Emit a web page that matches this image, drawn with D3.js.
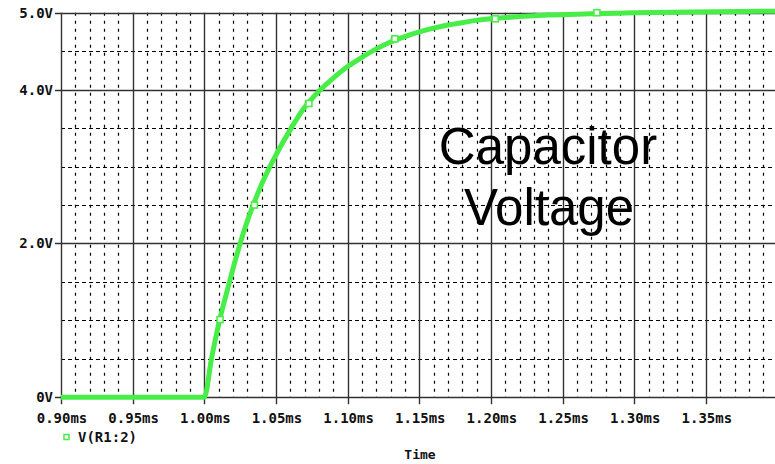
<!DOCTYPE html>
<html><head><meta charset="utf-8">
<script src="https://cdn.jsdelivr.net/npm/d3@7"></script>
<style>html,body{margin:0;padding:0;background:#fff;overflow:hidden}</style>
</head><body><svg id="c" width="775" height="464"></svg>
<script>
// Data
const timeMs = [0.90,1.00,1.005,1.010,1.015,1.020,1.025,1.030,1.035,1.040,1.045,1.050,1.060,1.070,1.080,1.090,1.100,1.110,1.120,1.130,1.140,1.150,1.160,1.170,1.180,1.190,1.200,1.220,1.240,1.260,1.280,1.300,1.340,1.400];
const voltage = [0,0,0.50,0.95,1.32,1.67,2.00,2.29,2.54,2.77,2.97,3.15,3.48,3.77,3.98,4.15,4.30,4.42,4.53,4.62,4.69,4.75,4.80,4.84,4.87,4.90,4.92,4.95,4.97,4.98,4.99,5.0,5.01,5.02];
const markerTime = [1.011,1.035,1.073,1.133,1.203,1.274];
const markerVolt = [1.01,2.50,3.82,4.66,4.92,5.00];
const xTicks = [0.90,0.95,1.00,1.05,1.10,1.15,1.20,1.25,1.30,1.35];
const xTickLabels = ["0.90ms","0.95ms","1.00ms","1.05ms","1.10ms","1.15ms","1.20ms","1.25ms","1.30ms","1.35ms"];
const yTicks = [0,2,4,5];
const yTickLabels = ["0V","2.0V","4.0V","5.0V"];
const xMinor = d3.range(0,51).map(i=>0.90+i*0.01).filter(v=>Math.abs((v-0.90)/0.05 - Math.round((v-0.90)/0.05))>1e-6);
const yMinor = [0.5,1.0,1.5,2.5,3.0,3.5,4.5];
const seriesName = "V(R1:2)";

const svg = d3.select("#c");
const x = d3.scaleLinear().domain([0.90,1.40]).range([61,61+10*71.65]);
const y = d3.scaleLinear().domain([0,5]).range([397.3,12.7]);
const font = "'DejaVu Sans Mono', monospace";
const green = "#47ee47";

// minor grid
svg.append("g").selectAll("line").data(xMinor).join("line")
  .attr("x1",d=>Math.round(x(d))+0.5).attr("x2",d=>Math.round(x(d))+0.5)
  .attr("y1",y(5)).attr("y2",y(0))
  .attr("stroke","#000").attr("stroke-width",1.2).attr("stroke-dasharray","3,5");
svg.append("g").selectAll("line").data(yMinor).join("line")
  .attr("x1",x(0.90)).attr("x2",775)
  .attr("y1",d=>Math.round(y(d))+0.5).attr("y2",d=>Math.round(y(d))+0.5)
  .attr("stroke","#000").attr("stroke-width",1.2).attr("stroke-dasharray","4,3");
// major grid
svg.append("g").selectAll("line").data(xTicks).join("line")
  .attr("x1",d=>Math.round(x(d))+0.5).attr("x2",d=>Math.round(x(d))+0.5)
  .attr("y1",y(5)).attr("y2",y(0)+7)
  .attr("stroke","#333").attr("stroke-width",1.4);
svg.append("g").selectAll("line").data(yTicks).join("line")
  .attr("x1",x(0.90)-6).attr("x2",775)
  .attr("y1",d=>Math.round(y(d))+0.5).attr("y2",d=>Math.round(y(d))+0.5)
  .attr("stroke","#333").attr("stroke-width",1.4);

// axis labels
svg.append("g").selectAll("text").data(yTicks).join("text")
  .attr("x",53).attr("y",(d)=>y(d)+5)
  .attr("text-anchor","end").attr("font-family",font).attr("font-weight","bold")
  .attr("font-size",14).attr("fill","#111").text((d,i)=>yTickLabels[i]);
svg.append("g").selectAll("text").data(xTicks).join("text")
  .attr("x",d=>x(d)+1).attr("y",423)
  .attr("text-anchor","middle").attr("font-family",font).attr("font-weight","bold")
  .attr("font-size",14).attr("fill","#111").text((d,i)=>xTickLabels[i]);

// series line
const pts = timeMs.map((t,i)=>[t,voltage[i]]);
svg.append("path").datum(pts)
  .attr("d",d3.line().x(d=>x(d[0])).y(d=>y(d[1])).curve(d3.curveMonotoneX))
  .attr("fill","none").attr("stroke",green).attr("stroke-width",5).attr("stroke-linejoin","round");
svg.append("g").selectAll("rect").data(markerTime).join("rect")
  .attr("x",d=>x(d)-3).attr("y",(d,i)=>y(markerVolt[i])-3)
  .attr("width",6).attr("height",6).attr("fill","#fff").attr("stroke",green).attr("stroke-width",1.6);

// legend
svg.append("rect").attr("x",64).attr("y",434.5).attr("width",5).attr("height",5)
  .attr("fill","#fff").attr("stroke",green).attr("stroke-width",1.5);
svg.append("text").attr("x",78).attr("y",441.5).attr("font-family",font).attr("font-weight","bold")
  .attr("font-size",14).attr("fill","#111").text(seriesName);
svg.append("text").attr("x",420).attr("y",459).attr("text-anchor","middle").attr("font-family",font)
  .attr("font-weight","bold").attr("font-size",13).attr("fill","#111").text("Time");

// annotation
const ann = svg.append("text").attr("font-family","'Liberation Sans', Arial, sans-serif")
  .attr("font-size",51).attr("fill","#000").attr("text-anchor","middle");
ann.append("tspan").attr("x",548).attr("y",164).text("Capacitor");
ann.append("tspan").attr("x",549).attr("y",225).text("Voltage");
</script></body></html>
